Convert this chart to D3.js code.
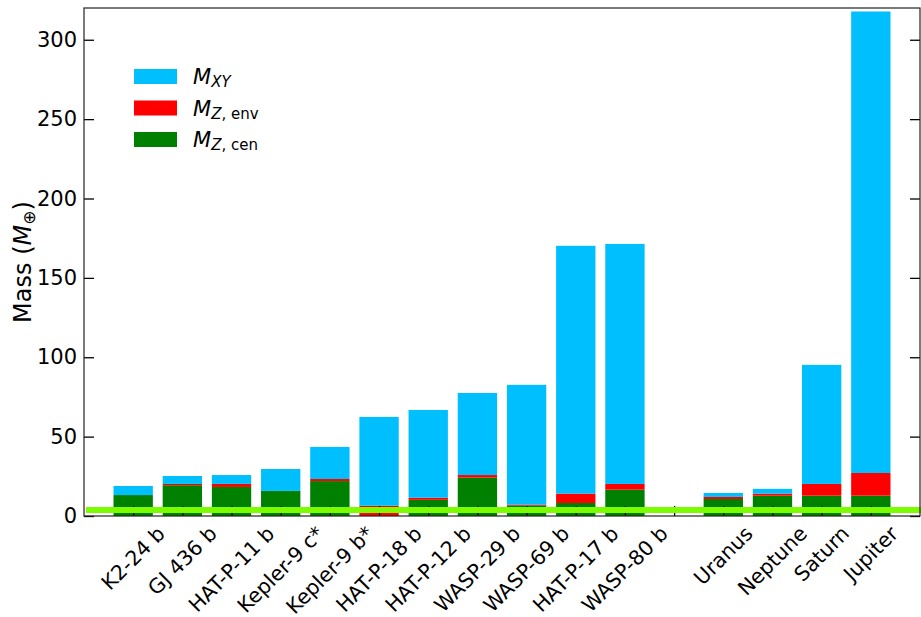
<!DOCTYPE html>
<html>
<head>
<meta charset="utf-8">
<script src="https://cdn.jsdelivr.net/npm/d3@7"></script>
<style>
  html, body { margin: 0; padding: 0; background: #fff; }
  svg { display: block; font-family: "DejaVu Sans", sans-serif; }
</style>
</head>
<body>
<svg id="chart" width="921" height="617"></svg>
<script>
// Planet names (the blank entry leaves a gap between exoplanets and Solar System giants)
const categories = ["K2-24 b", "GJ 436 b", "HAT-P-11 b", "Kepler-9 c*", "Kepler-9 b*",
  "HAT-P-18 b", "HAT-P-12 b", "WASP-29 b", "WASP-69 b", "HAT-P-17 b", "WASP-80 b",
  "", "Uranus", "Neptune", "Saturn", "Jupiter"];

// Heavy-element mass in the core (Earth masses)
const massZCen = [13.2, 19.4, 18.3, 15.8, 22.0, 0.0, 10.2, 24.2, 6.5, 8.2, 16.6,
  0, 10.7, 12.8, 12.8, 12.8];
// Heavy-element mass mixed in the envelope
const massZEnv = [0.0, 0.8, 1.9, 0.0, 1.3, 6.5, 1.3, 1.6, 0.6, 5.9, 3.6,
  0, 1.3, 1.3, 7.4, 14.3];
// Hydrogen/helium mass
const massXY = [5.7, 5.0, 5.6, 13.8, 20.2, 55.9, 55.3, 51.7, 75.5, 156.1, 151.2,
  0, 2.5, 3.0, 75.0, 290.7];

const yTicks = [0, 50, 100, 150, 200, 250, 300];
const refMass = 3.8;   // horizontal reference level

const seriesKeys = ["cen", "env", "xy"];
const seriesColors = { cen: "#008000", env: "#ff0000", xy: "#00bfff" };

const rows = categories.map((name, i) => ({
  name, i, cen: massZCen[i], env: massZEnv[i], xy: massXY[i]
}));

const margin = { left: 84, right: 1, top: 8, bottom: 101 };
const W = 921, H = 617;
const svg = d3.select("#chart");

const x = d3.scaleLinear().domain([-1, categories.length]).range([margin.left, W - margin.right]);
const y = d3.scaleLinear().domain([0, 320]).range([H - margin.bottom, margin.top]);
const barW = x(0.8) - x(0);

// Stacked bars
const stack = d3.stack().keys(seriesKeys)(rows);
svg.append("g").selectAll("g")
  .data(stack).join("g")
  .attr("fill", d => seriesColors[d.key])
  .selectAll("rect")
  .data(d => d.filter(p => p[1] - p[0] > 0))
  .join("rect")
  .attr("x", d => x(d.data.i) - barW / 2)
  .attr("width", barW)
  .attr("y", d => y(d[1]))
  .attr("height", d => y(d[0]) - y(d[1]));

// Axes: ticks point inward on all sides
const tickLen = 10;
const yLeft = d3.axisLeft(y).tickValues(yTicks).tickSizeInner(-tickLen).tickSizeOuter(0).tickPadding(7);
const yRight = d3.axisRight(y).tickValues(yTicks).tickSizeInner(-tickLen).tickSizeOuter(0).tickFormat("");
const xBottom = d3.axisBottom(x).tickValues(d3.range(categories.length)).tickSizeInner(-tickLen).tickSizeOuter(0).tickFormat("");

const gl = svg.append("g").attr("transform", `translate(${margin.left},0)`).call(yLeft);
const gr = svg.append("g").attr("transform", `translate(${W - margin.right},0)`).call(yRight);
const gb = svg.append("g").attr("transform", `translate(0,${H - margin.bottom})`).call(xBottom);
[gl, gr, gb].forEach(g => {
  g.select(".domain").remove();
  g.selectAll(".tick line").attr("stroke", "#000").attr("stroke-width", 1.3);
});
gl.selectAll(".tick text").attr("font-size", 21).attr("fill", "#000")
  .attr("font-family", "DejaVu Sans");

// Reference line
svg.append("line")
  .attr("x1", margin.left + 2).attr("x2", W)
  .attr("y1", y(refMass)).attr("y2", y(refMass))
  .attr("stroke", "#7cfc00").attr("stroke-width", 6);

// Frame
svg.append("rect")
  .attr("x", margin.left).attr("y", margin.top)
  .attr("width", W - margin.right - margin.left)
  .attr("height", H - margin.bottom - margin.top)
  .attr("fill", "none").attr("stroke", "#222").attr("stroke-width", 1.2);

// Rotated category labels, centred under each tick
const labelTop = H - margin.bottom + 6;
const fs = 20.5;
const lbl = svg.append("g").attr("font-size", fs).attr("fill", "#000");
rows.forEach(r => {
  if (!r.name) return;
  const t = lbl.append("text")
    .attr("text-anchor", "middle")
    .attr("dominant-baseline", "central")
    .text(r.name);
  const w = t.node().getComputedTextLength();
  const h = fs * 1.1;
  const half = (w + h) * Math.SQRT1_2 / 2;
  t.attr("transform", `translate(${x(r.i)},${labelTop + half}) rotate(-45)`);
});

// Y axis title
const yt = svg.append("text")
  .attr("transform", `translate(31,${(margin.top + H - margin.bottom) / 2}) rotate(-90)`)
  .attr("text-anchor", "middle")
  .attr("font-size", 24).attr("fill", "#000");
yt.append("tspan").text("Mass (");
yt.append("tspan").attr("font-style", "italic").text("M");
yt.append("tspan").attr("font-size", 17).attr("dy", 4).text("⊕");
yt.append("tspan").attr("dy", -4).text(")");

// Legend
const legendItems = [
  { key: "xy", sub: [["XY", true]] },
  { key: "env", sub: [["Z", true], [", env", false]] },
  { key: "cen", sub: [["Z", true], [", cen", false]] }
];
const lg = svg.append("g").attr("transform", "translate(134,69)");
legendItems.forEach((it, k) => {
  const gy = k * 31.5;
  lg.append("rect").attr("x", 0).attr("y", gy).attr("width", 43).attr("height", 15)
    .attr("fill", seriesColors[it.key]);
  const t = lg.append("text").attr("x", 59).attr("y", gy + 15)
    .attr("font-size", 21).attr("fill", "#000");
  t.append("tspan").attr("font-style", "italic").text("M");
  it.sub.forEach(([s, ital], j) => {
    const sp = t.append("tspan").attr("font-size", 15).text(s);
    if (ital) sp.attr("font-style", "italic");
    if (j === 0) sp.attr("dy", 3);
  });
});
</script>
</body>
</html>
